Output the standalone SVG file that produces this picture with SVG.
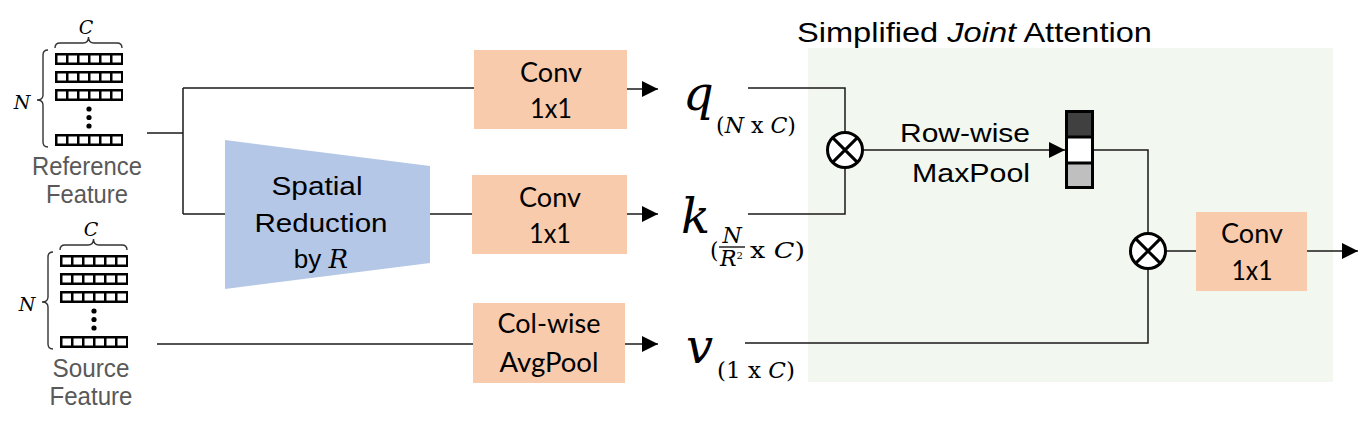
<svg xmlns="http://www.w3.org/2000/svg" width="1370" height="429" viewBox="0 0 1370 429">
<defs>
<marker id="arr" markerUnits="userSpaceOnUse" markerWidth="16" markerHeight="16" refX="16" refY="8" orient="auto">
<path d="M0,0 L16,8 L0,16 z" fill="#000"/>
</marker>
<g id="row">
<rect x="0" y="0" width="68" height="12" fill="#000"/>
<rect x="2.5" y="2.5" width="8.5" height="7" fill="#fff"/>
<rect x="13.5" y="2.5" width="8.5" height="7" fill="#fff"/>
<rect x="24.5" y="2.5" width="8.5" height="7" fill="#fff"/>
<rect x="35.5" y="2.5" width="8.5" height="7" fill="#fff"/>
<rect x="46.5" y="2.5" width="8.5" height="7" fill="#fff"/>
<rect x="57.5" y="2.5" width="8.5" height="7" fill="#fff"/>
</g>
<g id="feat">
<use href="#row" x="55" y="53"/>
<use href="#row" x="55" y="71"/>
<use href="#row" x="55" y="89"/>
<use href="#row" x="55" y="134"/>
<circle cx="89" cy="109" r="2.6" fill="#000"/>
<circle cx="89" cy="117.5" r="2.6" fill="#000"/>
<circle cx="89" cy="126" r="2.6" fill="#000"/>
<path class="brace" d="M55,48 Q55,43 60,43 L83,43 Q88.5,43 88.5,37 Q88.5,43 94,43 L117,43 Q122,43 122,48"/>
<path class="brace" d="M48,50 Q43,50 43,55 L43,95 Q43,100 37,100 Q43,100 43,105 L43,142 Q43,147 48,147"/>
<text class="mi" x="86" y="34" font-size="19" text-anchor="middle">C</text>
<text class="mi" x="22" y="109" font-size="19" text-anchor="middle">N</text>
</g>
<g id="otimes">
<circle cx="0" cy="0" r="17.5" fill="#fff" stroke="#000" stroke-width="3"/>
<path d="M-12.4,-12.4 L12.4,12.4 M-12.4,12.4 L12.4,-12.4" stroke="#000" stroke-width="3"/>
</g>
</defs>
<style>
.brace{fill:none;stroke:#333;stroke-width:1.4}
.mi{font-family:"DejaVu Serif","Liberation Serif",serif;font-style:italic;fill:#000}
.gray{font-family:"Liberation Sans",Arial,sans-serif;font-size:25px;fill:#595959;text-anchor:middle}
.box{fill:#f8cbad}
.bt{font-family:Lato,"Liberation Sans",sans-serif;font-size:27px;fill:#000;text-anchor:middle}
.at{font-family:"Liberation Sans",Arial,sans-serif;font-size:26px;fill:#000;text-anchor:middle}
.ln{fill:none;stroke:#1a1a1a;stroke-width:1.5}
.big{font-family:"DejaVu Serif","Liberation Serif",serif;font-style:italic;font-size:48px;fill:#000}
.sub{font-family:"DejaVu Serif","Liberation Serif",serif;font-size:22px;fill:#000}
.it{font-style:italic}
</style>

<rect id="bg" x="808" y="48" width="525" height="334" fill="#f2f7ef"/>
<text id="title" x="797" y="42" font-family="Liberation Sans, Arial, sans-serif" font-size="28" textLength="355" lengthAdjust="spacingAndGlyphs">Simplified <tspan font-style="italic">Joint</tspan> Attention</text>

<g id="connectors">
<path class="ln" d="M147,133 H183 M183,88 V214 M183,88 H474 M183,214 H225"/>
<path class="ln" d="M430,214 H472"/>
<path class="ln" d="M157,344 H473"/>
<path class="ln" d="M627,89 H658" marker-end="url(#arr)"/>
<path class="ln" d="M627,214 H658" marker-end="url(#arr)"/>
<path class="ln" d="M625,344 H658" marker-end="url(#arr)"/>
<path class="ln" d="M748,88 H845 V133"/>
<path class="ln" d="M748,214 H845 V168"/>
<path class="ln" d="M863,150 H1065" marker-end="url(#arr)"/>
<path class="ln" d="M1094,150 H1148 V233"/>
<path class="ln" d="M745,343 H1148 V269"/>
<path class="ln" d="M1166,251 H1196"/>
<path class="ln" d="M1307,251 H1358" marker-end="url(#arr)"/>
</g>

<g id="ref-feature">
<use href="#feat"/>
<text class="gray" x="87" y="175" textLength="110" lengthAdjust="spacingAndGlyphs">Reference</text>
<text class="gray" x="87" y="203" textLength="82" lengthAdjust="spacingAndGlyphs">Feature</text>
</g>

<g id="src-feature">
<use href="#feat" transform="translate(5,202)"/>
<text class="gray" x="91" y="377" textLength="77" lengthAdjust="spacingAndGlyphs">Source</text>
<text class="gray" x="91" y="405" textLength="83" lengthAdjust="spacingAndGlyphs">Feature</text>
</g>

<g id="spatial-reduction">
<polygon points="225,140 430,166 430,263 225,289" fill="#b4c7e7"/>
<text class="at" x="317" y="195" textLength="91" lengthAdjust="spacingAndGlyphs">Spatial</text>
<text class="at" x="321" y="232" textLength="133" lengthAdjust="spacingAndGlyphs">Reduction</text>
<text class="at" x="321" y="268" font-size="27">by <tspan font-family="DejaVu Serif, serif" font-style="italic">R</tspan></text>
</g>

<g id="conv-q">
<rect class="box" x="474" y="50" width="153" height="79"/>
<text class="bt" x="551" y="82" textLength="62" lengthAdjust="spacingAndGlyphs">Conv</text>
<text class="bt" x="551" y="118" textLength="42" lengthAdjust="spacingAndGlyphs">1x1</text>
</g>

<g id="conv-k">
<rect class="box" x="472" y="175" width="155" height="79"/>
<text class="bt" x="550" y="207" textLength="62" lengthAdjust="spacingAndGlyphs">Conv</text>
<text class="bt" x="550" y="243" textLength="42" lengthAdjust="spacingAndGlyphs">1x1</text>
</g>

<g id="avgpool">
<rect class="box" x="473" y="303" width="152" height="80"/>
<text class="bt" x="549" y="333" textLength="103" lengthAdjust="spacingAndGlyphs">Col-wise</text>
<text class="bt" x="549" y="372" textLength="99" lengthAdjust="spacingAndGlyphs">AvgPool</text>
</g>

<g id="q">
<text class="big" x="683" y="110">q</text>
<text class="sub" x="716" y="133" textLength="80" lengthAdjust="spacingAndGlyphs">(<tspan class="it">N</tspan> x <tspan class="it">C</tspan>)</text>
</g>

<g id="k">
<text class="big" x="681" y="233">k</text>
<text class="sub" x="710" y="258" font-size="24">(</text>
<text class="sub it" x="732" y="243" font-size="14" text-anchor="middle">N</text>
<line x1="719" y1="247" x2="745" y2="247" stroke="#000" stroke-width="1.3"/>
<text class="sub" x="720" y="266" font-size="15"><tspan class="it">R</tspan><tspan font-size="10" dy="-7">2</tspan></text>
<text class="sub" x="750" y="258" textLength="55" lengthAdjust="spacingAndGlyphs">x <tspan class="it">C</tspan>)</text>
</g>

<g id="v">
<text class="big" x="686" y="363">v</text>
<text class="sub" x="717" y="378" textLength="78" lengthAdjust="spacingAndGlyphs">(1 x <tspan class="it">C</tspan>)</text>
</g>

<g id="mul1"><use href="#otimes" x="845" y="150"/></g>

<g id="rowwise-label">
<text class="at" x="965" y="142" font-size="27" textLength="130" lengthAdjust="spacingAndGlyphs">Row-wise</text>
<text class="at" x="971" y="182" font-size="27" textLength="118" lengthAdjust="spacingAndGlyphs">MaxPool</text>
</g>

<g id="vector">
<rect x="1065" y="110" width="29" height="27" fill="#404040"/>
<rect x="1065" y="137" width="29" height="26" fill="#fff"/>
<rect x="1065" y="163" width="29" height="26" fill="#bfbfbf"/>
<rect x="1066.5" y="111.5" width="26" height="76" fill="none" stroke="#000" stroke-width="3"/>
<path d="M1066,137 H1093 M1066,163 H1093" stroke="#000" stroke-width="3"/>
</g>

<g id="mul2"><use href="#otimes" x="1148" y="251"/></g>

<g id="conv-out">
<rect class="box" x="1196" y="212" width="111" height="79"/>
<text class="bt" x="1252" y="243" textLength="62" lengthAdjust="spacingAndGlyphs">Conv</text>
<text class="bt" x="1252" y="280" textLength="41" lengthAdjust="spacingAndGlyphs">1x1</text>
</g>
</svg>
